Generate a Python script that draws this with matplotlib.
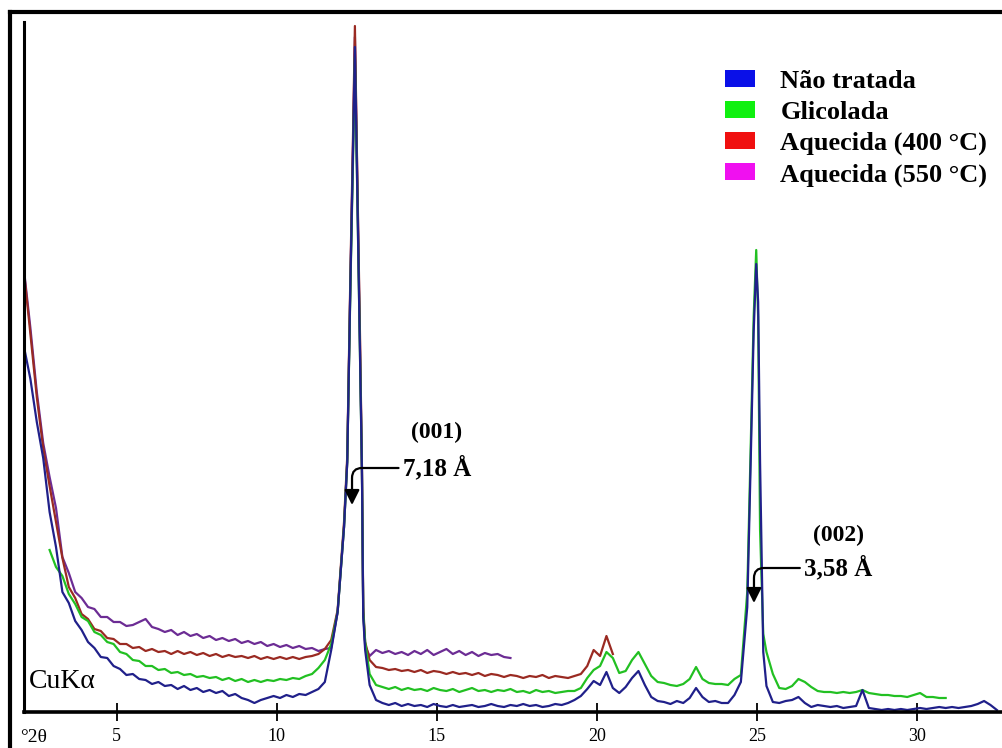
import numpy as np
import matplotlib
matplotlib.use('Agg')
import matplotlib.pyplot as plt
from matplotlib.patches import Patch
from matplotlib.lines import Line2D

plt.rcParams['font.family'] = ['Liberation Serif', 'DejaVu Serif']

# intensities read every 0.2 deg (2theta), starting at *_x0
step = 0.2

blue_x0 = 2.1
blue = [365, 333, 290, 254, 200, 165, 120, 109, 91, 82,
        70, 64, 55, 54, 46, 43, 37, 38, 33, 32,
        28, 30, 26, 27, 23, 26, 22, 24, 20, 22,
        19, 21, 16, 18, 14, 12, 9, 12, 14, 16,
        14, 17, 15, 18, 17, 20, 23, 30, 62, 100,
        185, 430, 550, 95, 27, 12, 9, 7, 9, 6,
        8, 6, 7, 5, 8, 6, 5, 7, 5, 6,
        7, 5, 6, 8, 6, 5, 7, 6, 8, 6,
        7, 5, 6, 8, 7, 9, 12, 16, 23, 31,
        27, 40, 24, 19, 25, 34, 41, 27, 15, 11,
        10, 8, 11, 9, 14, 24, 15, 10, 11, 9,
        9, 17, 30, 105, 380, 250, 26, 10, 9, 11,
        12, 15, 9, 5, 7, 6, 5, 6, 4, 5,
        6, 22, 4, 3, 2, 3, 2, 3, 2, 3,
        4, 3, 4, 5, 4, 5, 4, 5, 6, 8,
        11, 7, 2]

green_x0 = 2.9
green = [162, 145, 136, 118, 108, 95, 91, 80, 77, 70,
         68, 60, 58, 52, 51, 46, 46, 42, 43, 39,
         40, 37, 38, 35, 36, 34, 35, 32, 34, 31,
         33, 30, 32, 30, 32, 31, 33, 32, 34, 33,
         36, 38, 44, 52, 68, 100, 185, 425, 545, 100,
         38, 27, 25, 23, 25, 22, 24, 22, 23, 21,
         24, 22, 21, 23, 20, 22, 24, 21, 22, 20,
         22, 21, 23, 20, 21, 19, 22, 20, 21, 19,
         20, 21, 21, 24, 34, 42, 46, 60, 54, 39,
         41, 52, 60, 48, 36, 30, 29, 27, 26, 28,
         33, 45, 33, 29, 28, 28, 27, 33, 37, 120,
         395, 182, 60, 38, 24, 23, 26, 33, 30, 25,
         21, 20, 20, 19, 20, 19, 20, 22, 19, 18,
         17, 17, 16, 16, 15, 17, 19, 15, 15, 14, 14]

red_x0 = 2.1
red = [440, 378, 315, 264, 226, 190, 154, 125, 114, 98,
       93, 83, 81, 74, 73, 68, 68, 64, 65, 61,
       63, 60, 61, 58, 61, 58, 60, 57, 59, 56,
       58, 55, 57, 55, 56, 54, 56, 53, 55, 53,
       55, 53, 55, 53, 55, 56, 58, 63, 72, 102,
       190, 440, 565, 105, 52, 45, 44, 42, 43, 41,
       42, 40, 42, 39, 41, 40, 38, 40, 38, 39,
       37, 39, 36, 38, 37, 35, 37, 36, 34, 36,
       35, 37, 34, 36, 35, 34, 36, 38, 46, 62,
       56, 76, 58]

purple_x0 = 2.1
purple = [442, 384, 320, 269, 235, 204, 155, 139, 120, 114,
          105, 103, 95, 95, 90, 90, 86, 87, 90, 93,
          85, 83, 80, 82, 77, 80, 76, 78, 74, 76,
          72, 74, 71, 73, 69, 71, 68, 70, 66, 68,
          65, 67, 64, 66, 63, 64, 61, 63, 64, 100,
          185, 432, 560, 100, 56, 62, 59, 61, 58, 60,
          57, 61, 58, 62, 57, 60, 63, 58, 61, 57,
          60, 56, 59, 57, 58, 55, 54]

# extra readings on the sharp (001) and (002) reflections
pk1_x = [12.2, 12.38, 12.44, 12.6, 12.66, 12.76]
pk1_blue = [250, 560, 665, 360, 240, 62]
pk1_green = [250, 550, 655, 355, 240, 70]
pk1_red = [255, 575, 686, 375, 245, 70]
pk1_purple = [250, 565, 675, 365, 242, 66]

pk2_x = [24.8, 24.98, 25.04, 25.2]
pk2_blue = [240, 448, 410, 60]
pk2_green = [255, 462, 395, 78]

labels = ['Não tratada', 'Glicolada', 'Aquecida (400 °C)', 'Aquecida (550 °C)']
legend_colors = ['#0a10e8', '#10f010', '#f01010', '#f010f0']
xticks = [5, 10, 15, 20, 25, 30]


def series(x0, vals, extra):
    x = list(np.round(x0 + step * np.arange(len(vals)), 2))
    y = list(vals)
    for ex, ey in extra:
        x += ex
        y += ey
    x = np.array(x)
    y = np.array(y)
    o = np.argsort(x)
    return x[o], y[o]


fig = plt.figure(figsize=(10.02, 7.48), dpi=100)
ax = fig.add_axes([24 / 1002, 36 / 748, 978 / 1002, 690 / 748])

xp, yp = series(purple_x0, purple, [(pk1_x, pk1_purple)])
xr, yr = series(red_x0, red, [(pk1_x, pk1_red)])
xg, yg = series(green_x0, green, [(pk1_x, pk1_green), (pk2_x, pk2_green)])
xb, yb = series(blue_x0, blue, [(pk1_x, pk1_blue), (pk2_x, pk2_blue)])

ax.plot(xp, yp, color='#6c2c94', lw=1.6)
ax.plot(xr, yr, color='#9a2a22', lw=1.6)
ax.plot(xg, yg, color='#22c022', lw=1.6)
ax.plot(xb, yb, color='#20208a', lw=1.6)

ax.set_xlim(2.1, 32.66)
ax.set_ylim(0, 690)
ax.set_yticks([])
ax.set_xticks(xticks)
ax.tick_params(axis='x', direction='inout', length=13, width=1.3,
               labelsize=13, pad=5)
for s in ['top', 'right']:
    ax.spines[s].set_visible(False)
ax.spines['left'].set_linewidth(2.2)
ax.spines['bottom'].set_linewidth(2.6)

# outer frame
fig.add_artist(Line2D([10 / 1002, 1], [1 - 12 / 748, 1 - 12 / 748],
                      transform=fig.transFigure, color='k', lw=3))
fig.add_artist(Line2D([10 / 1002, 10 / 1002], [0, 1 - 12 / 748],
                      transform=fig.transFigure, color='k', lw=3))

fig.text(20 / 1002, 1 - 738 / 748, '°2θ', fontsize=14, ha='left', va='center')
ax.text(2.25, 18, 'CuKα', fontsize=20, ha='left', va='bottom')

arrow = dict(arrowstyle='-|>,head_length=0.5,head_width=0.25',
             connectionstyle='angle,angleA=0,angleB=90,rad=10',
             color='k', lw=1.6, shrinkA=1, shrinkB=0)
ax.text(15.0, 280, '(001)', ha='center', va='center', fontsize=17, fontweight='bold')
ax.annotate('7,18 Å', xy=(12.35, 207), xytext=(15.0, 244), ha='center', va='center',
            fontsize=18, fontweight='bold', arrowprops=arrow)
ax.text(27.54, 177, '(002)', ha='center', va='center', fontsize=17, fontweight='bold')
ax.annotate('3,58 Å', xy=(24.91, 109), xytext=(27.54, 144), ha='center', va='center',
            fontsize=18, fontweight='bold', arrowprops=arrow)

handles = [Patch(facecolor=c, edgecolor='none') for c in legend_colors]
fig.legend(handles, labels, loc='upper left', bbox_to_anchor=(725 / 1002, 1 - 70 / 748),
           frameon=False, borderpad=0, borderaxespad=0, handlelength=1.15,
           handleheight=0.6, handletextpad=0.95, labelspacing=0.3,
           prop={'size': 19, 'weight': 'bold'})

fig.savefig('out.png', dpi=100, facecolor='white')
